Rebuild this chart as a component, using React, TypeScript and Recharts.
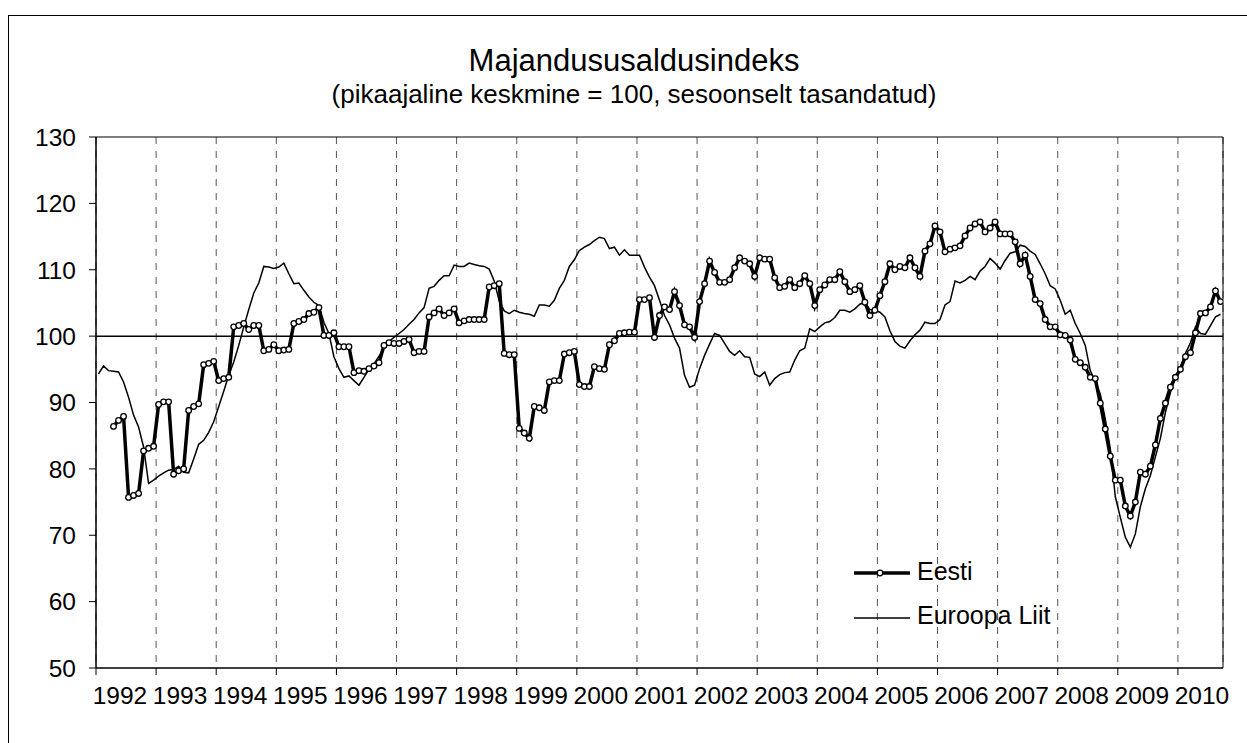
import React from 'react';
import { LineChart, Line, XAxis, YAxis, CartesianGrid, ReferenceLine, ReferenceArea } from 'recharts';

const TITLE = 'Majandususaldusindeks';
const SUBTITLE = '(pikaajaline keskmine = 100, sesoonselt tasandatud)';

const YEAR_LABELS = ['1992', '1993', '1994', '1995', '1996', '1997', '1998', '1999', '2000', '2001', '2002', '2003', '2004', '2005', '2006', '2007', '2008', '2009', '2010'];
const Y_TICKS = [50, 60, 70, 80, 90, 100, 110, 120, 130];

// Euroopa Liit, monthly from Jan 1992
const EU_VALUES = [
  94.3, 95.5, 94.8, 94.7, 94.6, 93.1, 90.8, 88.1, 86.3, 83.3, 77.8, 78.3,
  78.9, 79.4, 79.8, 79.9, 80.4, 79.5, 79.4, 81.5, 83.7, 84.3, 85.5, 87.1,
  89.4, 91.7, 94.1, 96.1, 98.6, 101.4, 104.0, 106.5, 108.0, 110.5, 110.4, 110.2,
  110.4, 111.0, 109.4, 107.9, 108.0, 106.9, 105.9, 105.1, 104.6, 102.1, 100.4, 96.9,
  95.1, 93.8, 94.0, 93.3, 92.6, 93.8, 95.0, 95.8, 97.0, 98.2, 99.2, 99.8,
  100.4, 101.0, 101.8, 102.5, 103.5, 104.3, 107.2, 107.5, 108.4, 109.1, 109.1, 110.7,
  110.5, 110.5, 111.0, 110.8, 110.6, 110.5, 110.1, 108.3, 105.3, 103.8, 103.4, 103.9,
  103.6, 103.4, 103.3, 103.0, 104.7, 104.7, 104.5, 105.4, 107.2, 108.4, 110.5, 111.5,
  112.9, 113.4, 113.8, 114.4, 114.9, 114.7, 113.2, 113.4, 112.2, 113.0, 112.2, 112.2,
  112.2, 110.4, 108.9, 107.6, 105.4, 103.1, 101.7, 99.7, 98.2, 94.1, 92.3, 92.6,
  95.1, 97.1, 98.8, 100.4, 100.1, 98.9, 97.7, 97.1, 97.8, 96.9, 96.8, 94.3,
  93.9, 94.6, 92.6, 93.6, 94.2, 94.5, 94.6, 96.4, 97.8, 98.2, 101.1, 100.7,
  101.4, 102.0, 102.2, 102.8, 103.9, 103.9, 103.6, 104.1, 104.8, 105.1, 104.0, 103.9,
  103.6, 102.9, 100.8, 99.2, 98.5, 98.2, 99.3, 100.2, 100.9, 102.1, 101.9, 101.9,
  102.5, 104.7, 105.2, 108.3, 108.0, 108.4, 109.0, 108.5, 109.8, 110.5, 111.7, 111.0,
  110.1, 111.4, 112.5, 112.7, 113.7, 113.5, 112.8, 112.3, 110.9, 109.4, 107.6, 107.1,
  105.4, 103.3, 103.9, 101.9, 100.4, 98.6, 94.8, 93.1, 91.3, 87.5, 83.0, 75.8,
  72.7, 69.7, 68.2, 70.2, 74.3, 77.0, 79.0, 81.8, 84.6, 88.5, 91.5, 93.8,
  95.3, 97.4, 99.0, 101.4, 100.4, 100.3, 101.6, 102.9, 103.3,
];

// Eesti, monthly from Apr 1992 (month index 3)
const EESTI_START = 3;
const EESTI_VALUES = [
  86.4, 87.3, 87.9, 75.7, 76.0, 76.3, 82.7, 83.1, 83.4,
  89.7, 90.1, 90.1, 79.2, 79.7, 80.0, 88.8, 89.4, 89.8, 95.7, 95.9, 96.2,
  93.3, 93.6, 93.8, 101.4, 101.6, 101.9, 101.0, 101.6, 101.6, 97.8, 98.0, 98.7,
  97.8, 97.9, 98.0, 101.9, 102.2, 102.5, 103.4, 103.6, 104.3, 100.1, 100.1, 100.5,
  98.4, 98.4, 98.4, 94.5, 94.8, 94.7, 95.1, 95.5, 96.0, 98.6, 99.0, 98.9,
  98.9, 99.2, 99.5, 97.5, 97.7, 97.7, 102.9, 103.5, 104.1, 103.1, 103.5, 104.1,
  102.0, 102.3, 102.5, 102.5, 102.5, 102.5, 107.4, 107.6, 107.9, 97.4, 97.2, 97.2,
  86.1, 85.4, 84.6, 89.4, 89.2, 88.8, 93.1, 93.3, 93.3, 97.3, 97.5, 97.7,
  92.7, 92.4, 92.4, 95.4, 95.1, 95.0, 98.7, 99.3, 100.4, 100.5, 100.6, 100.6,
  105.5, 105.5, 105.8, 99.8, 103.1, 104.4, 104.0, 106.7, 104.6, 101.7, 101.4, 99.8,
  105.2, 107.9, 111.3, 109.6, 108.1, 108.1, 108.5, 110.3, 111.8, 111.3, 110.9, 109.0,
  111.8, 111.6, 111.6, 108.8, 107.3, 107.5, 108.5, 107.3, 107.9, 109.1, 107.9, 104.6,
  107.0, 107.7, 108.5, 108.5, 109.7, 108.2, 106.7, 107.0, 107.6, 105.1, 103.1, 103.9,
  106.1, 108.2, 110.9, 110.0, 110.5, 110.3, 111.8, 110.3, 109.0, 112.8, 113.9, 116.6,
  115.7, 112.7, 113.1, 113.3, 113.6, 115.1, 116.3, 116.9, 117.2, 115.7, 116.3, 117.2,
  115.4, 115.4, 115.4, 114.2, 110.9, 112.2, 109.0, 105.5, 104.9, 102.5, 101.4, 101.4,
  100.2, 100.1, 99.4, 96.5, 96.0, 95.3, 93.8, 93.6, 89.9, 86.0, 81.9, 78.3,
  78.3, 74.4, 72.9, 75.0, 79.5, 79.2, 80.4, 83.6, 87.6, 89.9, 92.3, 93.8,
  95.0, 96.9, 97.5, 100.5, 103.4, 103.5, 104.4, 106.8, 105.2,
];

const SERIES_NAMES = { ee: 'Eesti', eu: 'Euroopa Liit' };

const data = EU_VALUES.map((eu, i) => ({
  t: i + 0.5,
  eu,
  ee: i >= EESTI_START ? EESTI_VALUES[i - EESTI_START] : null,
}));

const MONTHS = EU_VALUES.length;
const X_TICKS = YEAR_LABELS.map((_, k) => k * 12);

const FONT = '"Liberation Sans", Arial, Helvetica, sans-serif';

const XTick = (props: any) => {
  const { x, y, payload } = props;
  const idx = Math.round(payload.value / 12);
  return (
    <text x={x + 24} y={y} dy={27} textAnchor="middle" fontFamily={FONT} fontSize={24.5} fill="#000">
      {YEAR_LABELS[idx]}
    </text>
  );
};

const YTick = (props: any) => {
  const { x, y, payload } = props;
  return (
    <text x={x} y={y} dy={8.8} textAnchor="end" fontFamily={FONT} fontSize={24.5} fill="#000">
      {payload.value}
    </text>
  );
};

export default function App() {
  return (
    <div style={{ position: 'absolute', left: 0, top: 0, width: 1247, height: 743, overflow: 'hidden', background: '#fff' }}>
      <div
        style={{
          position: 'absolute',
          left: 8,
          top: 15,
          right: -2,
          bottom: -2,
          borderLeft: '1px solid #000',
          borderTop: '1px solid #000',
        }}
      />
      <div style={{ position: 'absolute', left: 0, top: 0 }}>
        <LineChart width={1247} height={743} data={data} margin={{ top: 137, right: 24, left: 0, bottom: 0 }}>
          <CartesianGrid horizontal={false} vertical={true} stroke="#555" strokeDasharray="7 7" />
          <ReferenceArea x1={0} x2={MONTHS} y1={50} y2={130} fill="none" stroke="#000" strokeWidth={1} />
          <XAxis
            type="number"
            dataKey="t"
            domain={[0, MONTHS]}
            ticks={X_TICKS}
            interval={0}
            tickSize={7}
            tickMargin={2}
            tick={<XTick />}
            axisLine={{ stroke: '#000' }}
            tickLine={{ stroke: '#000' }}
            height={75}
            allowDataOverflow
          />
          <YAxis
            type="number"
            domain={[50, 130]}
            ticks={Y_TICKS}
            interval={0}
            tickSize={7}
            tickMargin={13}
            tick={<YTick />}
            axisLine={{ stroke: '#000' }}
            tickLine={{ stroke: '#000' }}
            width={96}
            allowDataOverflow
          />
          <ReferenceLine y={100} stroke="#000" strokeWidth={1.5} />
          <Line
            type="linear"
            dataKey="eu"
            name={SERIES_NAMES.eu}
            stroke="#000"
            strokeWidth={1.5}
            dot={false}
            activeDot={false}
            isAnimationActive={false}
          />
          <Line
            type="linear"
            dataKey="ee"
            name={SERIES_NAMES.ee}
            stroke="#000"
            strokeWidth={3.5}
            dot={{ r: 2.8, fill: '#fff', stroke: '#000', strokeWidth: 1.3 }}
            activeDot={false}
            isAnimationActive={false}
          />
        </LineChart>
      </div>
      <svg width={1247} height={743} style={{ position: 'absolute', left: 0, top: 0, pointerEvents: 'none' }}>
        <text x={634} y={71} textAnchor="middle" fontFamily={FONT} fontSize={31} fill="#000">{TITLE}</text>
        <text x={634} y={103} textAnchor="middle" fontFamily={FONT} fontSize={26} fill="#000">{SUBTITLE}</text>
        <line x1={854} x2={910} y1={573} y2={573} stroke="#000" strokeWidth={3.5} />
        <circle cx={880} cy={573} r={2.8} fill="#fff" stroke="#000" strokeWidth={1.3} />
        <text x={917} y={580} fontFamily={FONT} fontSize={25} fill="#000">{SERIES_NAMES.ee}</text>
        <line x1={854} x2={910} y1={618} y2={618} stroke="#000" strokeWidth={1.5} />
        <text x={917} y={624} fontFamily={FONT} fontSize={25} fill="#000">{SERIES_NAMES.eu}</text>
      </svg>
    </div>
  );
}
